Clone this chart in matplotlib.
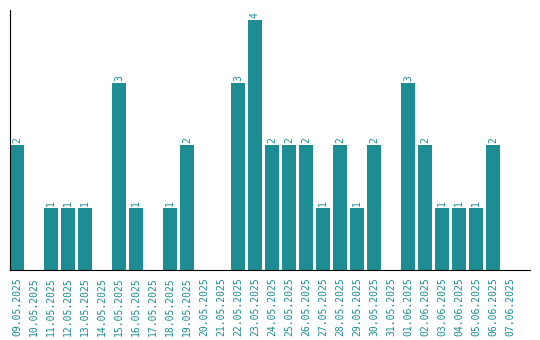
import matplotlib
matplotlib.use("Agg")
import matplotlib.pyplot as plt

# päivämäärät ja määrät
paivat = ["09.05.2025", "10.05.2025", "11.05.2025", "12.05.2025", "13.05.2025",
          "14.05.2025", "15.05.2025", "16.05.2025", "17.05.2025", "18.05.2025",
          "19.05.2025", "20.05.2025", "21.05.2025", "22.05.2025", "23.05.2025",
          "24.05.2025", "25.05.2025", "26.05.2025", "27.05.2025", "28.05.2025",
          "29.05.2025", "30.05.2025", "31.05.2025", "01.06.2025", "02.06.2025",
          "03.06.2025", "04.06.2025", "05.06.2025", "06.06.2025", "07.06.2025"]
maarat = [2, 0, 1, 1, 1, 0, 3, 1, 0, 1,
          2, 0, 0, 3, 4, 2, 2, 2, 1, 2,
          1, 2, 0, 3, 2, 1, 1, 1, 2, 0]

vari = "#1e8c93"

fig = plt.figure(figsize=(5.4, 3.4), dpi=100)
ax = fig.add_axes([10 / 540, 70 / 340, 520 / 540, 260 / 340])

x = list(range(len(paivat)))
palkit = ax.bar(x, maarat, width=14 / 17, color=vari)

for xi, m in zip(x, maarat):
    if m > 0:
        ax.text(xi, m + 0.03, str(m), rotation=90, ha="center", va="bottom",
                color=vari, fontsize=7, family="DejaVu Sans Mono")

ax.set_xlim(-7 / 17, 30.18)
ax.set_ylim(0, 4.16)
ax.set_xticks(x)
ax.set_xticklabels(paivat, rotation=90, color=vari, fontsize=7,
                   family="DejaVu Sans Mono")
ax.tick_params(axis="x", length=0, pad=5)
ax.set_yticks([])
ax.spines["top"].set_visible(False)
ax.spines["right"].set_visible(False)

fig.savefig("out.png", dpi=100)
